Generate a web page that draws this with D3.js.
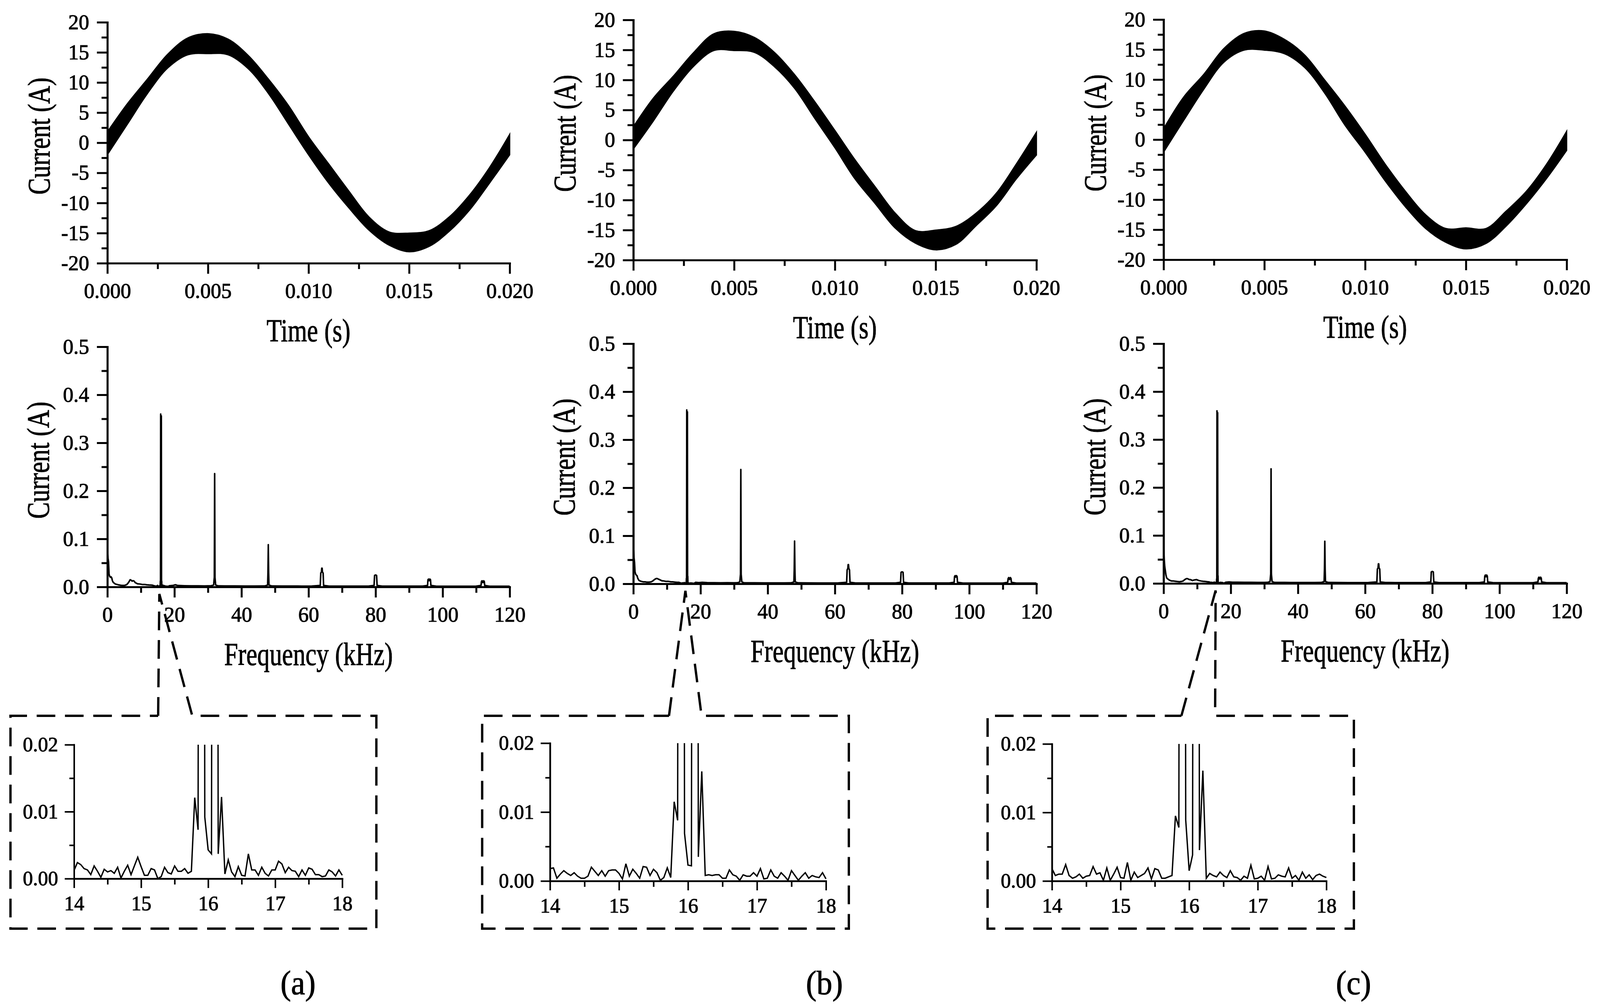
<!DOCTYPE html>
<html>
<head>
<meta charset="utf-8">
<script src="https://cdn.jsdelivr.net/npm/d3@7"></script>
<style>
  html, body { margin: 0; padding: 0; overflow: hidden; background: #fff; }
  svg { display: block; width: 100vw; height: 100vh; }
  text { font-family: "Liberation Serif", "Times New Roman", serif; fill: #000; stroke: #000; stroke-width: 1.2px; }
</style>
</head>
<body>
<div id="viz"></div>
<script>
// ---- time domain: upper / lower edge of the current band (A) ----
var timeGrid = [0, 0.001, 0.002, 0.003, 0.004, 0.005, 0.006, 0.007, 0.008, 0.009, 0.010,
                0.011, 0.012, 0.013, 0.014, 0.015, 0.016, 0.017, 0.018, 0.019, 0.020];

var waveUpperA = [1.8, 6.5, 10.6, 14.7, 17.4, 18.1, 17.2, 14.5, 10.6, 6.2, 1.0, -3.5, -8.0, -12.3, -14.8, -15.0, -14.6, -12.3, -8.7, -4.1, 1.4];
var waveLowerA = [-2.0, 3.1, 8.2, 12.4, 14.6, 14.8, 14.6, 12.3, 8.2, 3.1, -2.0, -6.7, -10.8, -14.5, -17.0, -18.1, -17.2, -14.7, -11.2, -6.7, -2.0];
var waveUpperB = [2.2, 7.0, 10.7, 14.6, 17.7, 18.1, 17.1, 14.6, 10.9, 6.4, 1.6, -3.3, -7.8, -12.2, -15.1, -15.0, -14.4, -12.2, -8.9, -4.0, 1.3];
var waveLowerB = [-1.5, 3.2, 8.2, 12.3, 14.9, 14.9, 14.6, 12.2, 8.6, 3.6, -1.3, -6.5, -10.6, -14.7, -17.2, -18.3, -17.4, -14.3, -11.0, -6.5, -2.5];
var waveUpperC = [1.8, 7.1, 10.9, 15.2, 17.7, 18.1, 16.7, 14.1, 9.9, 5.6, 0.9, -4.1, -8.6, -12.5, -14.8, -14.7, -14.8, -11.9, -8.6, -4.1, 1.4];
var waveLowerC = [-2.1, 3.2, 8.4, 12.9, 14.9, 14.9, 14.3, 12.0, 7.7, 2.4, -2.1, -6.9, -11.2, -14.8, -17.1, -18.2, -17.3, -14.4, -10.7, -6.5, -1.8];

// ---- spectrum, low band 0..14 kHz (A) ----
var lowFreq = [0.1, 0.2, 0.35, 0.5, 0.7, 0.9, 1.1, 1.3, 1.5, 1.7, 2.0, 2.4, 3.0, 3.5, 4.0, 4.7, 5.3,
               5.8, 6.3, 6.8, 7.1, 7.4, 7.7, 8.0, 8.3, 8.6, 9.0, 9.8, 10.5, 11.2, 11.7, 12.4, 13.0, 13.6];
var lowA = [0.075, 0.06, 0.052, 0.027, 0.022, 0.020, 0.021, 0.019, 0.013, 0.010, 0.008, 0.006, 0.005, 0.004, 0.0035, 0.003, 0.0035,
            0.005, 0.009, 0.015, 0.014, 0.012, 0.013, 0.012, 0.009, 0.008, 0.0065, 0.006, 0.005, 0.005, 0.0045, 0.004, 0.0038, 0.0035];
var lowB = [0.07, 0.055, 0.045, 0.025, 0.020, 0.018, 0.017, 0.012, 0.009, 0.007, 0.006, 0.005, 0.004, 0.004, 0.0035, 0.0035, 0.004,
            0.006, 0.009, 0.011, 0.011, 0.010, 0.009, 0.008, 0.007, 0.006, 0.006, 0.005, 0.005, 0.004, 0.004, 0.0035, 0.003, 0.003];
var lowC = [0.07, 0.05, 0.035, 0.028, 0.018, 0.012, 0.010, 0.009, 0.008, 0.007, 0.006, 0.005, 0.005, 0.0045, 0.004, 0.0035, 0.004,
            0.005, 0.008, 0.010, 0.010, 0.009, 0.008, 0.008, 0.007, 0.006, 0.007, 0.008, 0.006, 0.005, 0.0045, 0.004, 0.0035, 0.003];

// ---- spectrum 14..18 kHz, 50 Hz bins (mA) - shown in the insets ----
var insetFreq = [14.00, 14.05, 14.10, 14.15, 14.20, 14.25, 14.30, 14.35, 14.40, 14.45,
                 14.50, 14.55, 14.60, 14.65, 14.70, 14.75, 14.80, 14.85, 14.90, 14.95,
                 15.00, 15.05, 15.10, 15.15, 15.20, 15.25, 15.30, 15.35, 15.40, 15.45,
                 15.50, 15.55, 15.60, 15.65, 15.70, 15.75, 15.80, 15.85, 15.90, 15.95,
                 16.00, 16.05, 16.10, 16.15, 16.20, 16.25, 16.30, 16.35, 16.40, 16.45,
                 16.50, 16.55, 16.60, 16.65, 16.70, 16.75, 16.80, 16.85, 16.90, 16.95,
                 17.00, 17.05, 17.10, 17.15, 17.20, 17.25, 17.30, 17.35, 17.40, 17.45,
                 17.50, 17.55, 17.60, 17.65, 17.70, 17.75, 17.80, 17.85, 17.90, 17.95, 18.00];
var insetA = [1.2, 2.4, 2.1, 1.5, 1.3, 0.6, 1.9, 1.1, 0.2, 1.4,
              1.0, 1.2, 0.8, 1.7, 0.1, 1.1, 2.0, 0.6, 1.9, 3.2,
              1.8, 0.5, 0.5, 1.5, 1.3, 0.0, 0.3, 1.7, 0.9, 0.7,
              1.9, 1.1, 1.1, 1.5, 0.8, 1.1, 12.1, 7.3, 360, 9.2,
              4.3, 3.7, 356, 3.7, 12.2, 0.7, 2.8, 1.0, 0.3, 1.8,
              0.5, 0.4, 3.7, 1.3, 1.3, 0.5, 1.7, 0.8, 0.4, 1.3,
              1.3, 2.6, 2.2, 0.9, 1.7, 1.2, 1.1, 0.3, 1.3, 0.5,
              1.6, 1.4, 0.6, 0.6, 0.3, 0.4, 1.3, 1.0, 0.4, 1.3, 0.5];
var insetB = [1.8, 1.9, 0.4, 1.0, 1.5, 1.1, 0.8, 1.2, 0.7, 0.4,
              0.4, 0.7, 2.0, 1.4, 0.8, 1.5, 0.7, 1.5, 1.6, 1.6,
              1.1, 0.3, 2.5, 0.7, 1.7, 1.1, 0.4, 2.1, 2.0, 0.8,
              1.7, 1.2, 0.1, 0.5, 1.9, 0.5, 11.5, 8.8, 362, 6.9,
              2.3, 2.2, 358, 3.5, 15.9, 0.8, 0.9, 0.8, 0.9, 0.9,
              0.4, 0.4, 1.6, 0.9, 0.7, 0.1, 0.9, 0.7, 0.7, 1.2,
              0.7, 1.8, 0.3, 0.4, 1.6, 0.7, 0.4, 1.2, 0.7, 0.1,
              1.5, 0.8, 0.1, 0.7, 1.2, 0.4, 0.8, 0.6, 0.5, 1.2, 0.3];
var insetC = [1.8, 0.8, 1.0, 1.0, 2.4, 0.8, 0.4, 0.6, 1.0, 0.4,
              0.7, 0.8, 2.1, 1.0, 1.2, 0.1, 1.9, 0.1, 1.0, 2.0,
              0.5, 0.4, 2.7, 0.1, 1.3, 0.5, 0.8, 1.1, 1.9, 0.3,
              1.8, 1.6, 0.4, 0.4, 0.6, 0.8, 9.5, 7.8, 360, 8.9,
              1.5, 3.8, 356, 4.5, 16.1, 0.4, 1.1, 0.8, 0.6, 1.3,
              0.8, 0.5, 1.5, 0.6, 0.5, 0.1, 0.7, 0.4, 2.3, 0.3,
              0.4, 0.7, 0.1, 2.1, 0.3, 0.4, 0.9, 0.7, 0.6, 1.9,
              0.4, 0.8, 0.1, 1.3, 0.4, 0.9, 0.2, 0.8, 1.0, 0.7, 0.5];

// ---- spectrum, high band 18..120 kHz [kHz, A] ----
var highA = [[18.5,0.0025],[19.5,0.003],[20.3,0.0045],[21,0.003],[23,0.0025],[25,0.0022],[27,0.0022],[29,0.002],[31,0.0025],
  [31.7,0.004],[31.8,0.012],[31.9,0.02],[32.0,0.236],[32.1,0.02],[32.2,0.012],[32.3,0.004],
  [33,0.0022],[35,0.002],[38,0.002],[41,0.0018],[44,0.0018],[47,0.002],
  [47.8,0.004],[47.9,0.03],[48.0,0.088],[48.1,0.03],[48.2,0.004],
  [49,0.002],[52,0.0018],[55,0.0018],[58,0.0017],[61,0.0018],
  [63.5,0.003],[63.65,0.029],[63.85,0.031],[63.95,0.039],[64.05,0.039],[64.15,0.031],[64.35,0.029],[64.5,0.003],
  [66,0.0018],[69,0.0017],[72,0.0017],[75,0.0017],[78,0.0018],
  [79.55,0.003],[79.7,0.024],[80.0,0.025],[80.3,0.024],[80.45,0.003],
  [82,0.0017],[85,0.0016],[88,0.0016],[91,0.0016],[94,0.0017],
  [95.5,0.003],[95.62,0.015],[95.8,0.0163],[96.0,0.013],[96.2,0.0163],[96.38,0.015],[96.5,0.003],
  [98,0.0016],[101,0.0015],[104,0.0015],[107,0.0015],[110,0.0016],
  [111.45,0.003],[111.57,0.011],[111.75,0.0128],[112.0,0.009],[112.25,0.0128],[112.43,0.011],[112.55,0.003],
  [114,0.0015],[117,0.0015],[120,0.0015]];
var highB = [[18.5,0.003],[19.5,0.0025],[20.5,0.003],[22,0.0025],[24,0.0022],[26,0.002],[28,0.0022],[30,0.002],[31,0.0022],
  [31.7,0.004],[31.8,0.012],[31.9,0.02],[32.0,0.238],[32.1,0.02],[32.2,0.012],[32.3,0.004],
  [33,0.002],[36,0.002],[39,0.0018],[42,0.0018],[45,0.0018],[47,0.002],
  [47.8,0.004],[47.9,0.03],[48.0,0.089],[48.1,0.03],[48.2,0.004],
  [49,0.002],[52,0.0018],[55,0.0017],[58,0.0017],[61,0.0018],
  [63.5,0.003],[63.65,0.029],[63.85,0.032],[63.95,0.040],[64.05,0.040],[64.15,0.032],[64.35,0.029],[64.5,0.003],
  [66,0.0018],[69,0.0017],[72,0.0017],[75,0.0017],[78,0.0017],
  [79.55,0.003],[79.7,0.024],[80.0,0.025],[80.3,0.024],[80.45,0.003],
  [82,0.0017],[85,0.0016],[88,0.0016],[91,0.0016],[94,0.0016],
  [95.5,0.003],[95.62,0.015],[95.8,0.017],[96.0,0.014],[96.2,0.017],[96.38,0.015],[96.5,0.003],
  [98,0.0016],[101,0.0015],[104,0.0015],[107,0.0015],[110,0.0015],
  [111.45,0.003],[111.57,0.011],[111.75,0.013],[112.0,0.009],[112.25,0.013],[112.43,0.011],[112.55,0.003],
  [114,0.0015],[117,0.0015],[120,0.0015]];
var highC = [[18.5,0.0025],[19.5,0.003],[20.5,0.0025],[22,0.0025],[24,0.0022],[26,0.0022],[28,0.002],[30,0.002],[31,0.0022],
  [31.7,0.004],[31.8,0.012],[31.9,0.02],[32.0,0.239],[32.1,0.02],[32.2,0.012],[32.3,0.004],
  [33,0.002],[36,0.002],[39,0.0018],[42,0.0018],[45,0.0018],[47,0.002],
  [47.8,0.004],[47.9,0.03],[48.0,0.088],[48.1,0.03],[48.2,0.004],
  [49,0.002],[52,0.0018],[55,0.0017],[58,0.0017],[61,0.0018],
  [63.5,0.003],[63.65,0.030],[63.85,0.032],[63.95,0.041],[64.05,0.041],[64.15,0.032],[64.35,0.030],[64.5,0.003],
  [66,0.0018],[69,0.0017],[72,0.0017],[75,0.0017],[78,0.0017],
  [79.55,0.003],[79.7,0.024],[80.0,0.025],[80.3,0.024],[80.45,0.003],
  [82,0.0017],[85,0.0016],[88,0.0016],[91,0.0016],[94,0.0016],
  [95.5,0.003],[95.62,0.015],[95.8,0.0175],[96.0,0.014],[96.2,0.0175],[96.38,0.015],[96.5,0.003],
  [98,0.0016],[101,0.0015],[104,0.0015],[107,0.0015],[110,0.0015],
  [111.45,0.003],[111.57,0.011],[111.75,0.013],[112.0,0.009],[112.25,0.013],[112.43,0.011],[112.55,0.003],
  [114,0.0015],[117,0.0015],[120,0.0015]];

// ---- ticks ----
var timeTicks = [0, 0.005, 0.010, 0.015, 0.020];
var timeMinor = [0.0025, 0.0075, 0.0125, 0.0175];
var currTicks = [-20, -15, -10, -5, 0, 5, 10, 15, 20];
var currMinor = [-17.5, -12.5, -7.5, -2.5, 2.5, 7.5, 12.5, 17.5];
var freqTicks = [0, 20, 40, 60, 80, 100, 120];
var freqMinor = [10, 30, 50, 70, 90, 110];
var ampTicks = [0, 0.1, 0.2, 0.3, 0.4, 0.5];
var ampMinor = [0.05, 0.15, 0.25, 0.35, 0.45];
var zoomTicks = [14, 15, 16, 17, 18];
var zoomMinor = [14.5, 15.5, 16.5, 17.5];
var zoomAmpTicks = [0, 0.01, 0.02];
var zoomAmpMinor = [0.005, 0.015];

var width = 4128, height = 2571;

// panel placement (pixels)
var panels = [
  { label: "(a)", up: waveUpperA, lo: waveLowerA, low: lowA, ins: insetA, high: highA,
    tx: [277, 1315], ty: [57, 674], my: [888, 1503], ix: [191, 883], iy: [1907, 2250],
    box: [27, 971, 1833, 2378], gap: [408, 496], lx: 769 },
  { label: "(b)", up: waveUpperB, lo: waveLowerB, low: lowB, ins: insetB, high: highB,
    tx: [1634, 2674], ty: [51, 666], my: [880, 1495], ix: [1419, 2131], iy: [1903, 2256],
    box: [1244, 2190, 1833, 2378], gap: [1726, 1810], lx: 2127 },
  { label: "(c)", up: waveUpperC, lo: waveLowerC, low: lowC, ins: insetC, high: highC,
    tx: [3002, 4042], ty: [50, 665], my: [880, 1494], ix: [2714, 3422], iy: [1905, 2256],
    box: [2548, 3493, 1833, 2378], gap: [3048, 3135], lx: 3492 }
];

// viewBox keeps the whole figure inside whatever viewport the browser reports
var svg = d3.select("#viz").append("svg")
    .attr("viewBox", "0 0 " + width + " " + height)
    .attr("preserveAspectRatio", "none")
    .style("background", "#fff");

var serif = "Liberation Serif, Times New Roman, serif";

// draws minor + major ticks for one axis
function drawAxis(g, axisFn, scale, major, minor, fmt, big, small, pad, fs, sw) {
    g.append("g").call(axisFn(scale).tickValues(minor).tickSize(small).tickSizeOuter(0).tickFormat(""));
    g.append("g").call(axisFn(scale).tickValues(major).tickSize(big).tickSizeOuter(0)
        .tickPadding(pad).tickFormat(fmt));
    g.attr("font-family", serif).attr("font-size", fs);
    g.selectAll("path.domain").attr("stroke", "#000").attr("stroke-width", sw).attr("stroke-linecap", "square");
    g.selectAll(".tick line").attr("stroke", "#000").attr("stroke-width", sw);
    g.selectAll(".tick text").style("font-size", fs + "px").attr("fill", "#000");
}

function title(x, y, txt, rotate) {
    svg.append("text")
        .attr("transform", "translate(" + x + "," + y + ")" + (rotate ? " rotate(-90)" : "") + " scale(0.78,1)")
        .attr("text-anchor", "middle")
        .attr("dy", rotate ? "0.35em" : 0)
        .style("font-size", "82px")
        .text(txt);
}

panels.forEach(function(p, k) {

    // ---------- time domain ----------
    var x = d3.scaleLinear().domain([0, 0.02]).range(p.tx);
    var y = d3.scaleLinear().domain([-20, 20]).range([p.ty[1], p.ty[0]]);
    var band = timeGrid.map(function(t, i) { return { t: t, hi: p.up[i], lo: p.lo[i] }; });

    svg.append("path")
        .datum(band)
        .attr("fill", "#000")
        .attr("stroke", "#000")
        .attr("stroke-width", 3)
        .attr("d", d3.area()
            .x(function(d) { return x(d.t); })
            .y0(function(d) { return y(d.lo); })
            .y1(function(d) { return y(d.hi); })
            .curve(d3.curveCatmullRom));

    drawAxis(svg.append("g").attr("transform", "translate(0," + p.ty[1] + ")"),
        d3.axisBottom, x, timeTicks, timeMinor, d3.format(".3f"), 27, 15, 24, 54, 5);
    drawAxis(svg.append("g").attr("transform", "translate(" + p.tx[0] + ",0)"),
        d3.axisLeft, y, currTicks, currMinor, function(d) { return String(d); }, 27, 15, 20, 54, 5);

    title((p.tx[0] + p.tx[1]) / 2, p.ty[1] + 200, "Time (s)", false);
    title(p.tx[0] - 178, (p.ty[0] + p.ty[1]) / 2 - 17, "Current (A)", true);

    // ---------- spectrum ----------
    var fx = d3.scaleLinear().domain([0, 120]).range(p.tx);
    var fy = d3.scaleLinear().domain([0, 0.5]).range([p.my[1], p.my[0]]);
    var spec = lowFreq.map(function(f, i) { return [f, p.low[i]]; })
        .concat(insetFreq.map(function(f, i) { return [f, p.ins[i] / 1000]; }))
        .concat(p.high);

    svg.append("clipPath").attr("id", "clipMid" + k)
        .append("rect")
        .attr("x", p.tx[0]).attr("y", p.my[0])
        .attr("width", p.tx[1] - p.tx[0] + 4).attr("height", p.my[1] - p.my[0] + 6);

    svg.append("path")
        .datum(spec)
        .attr("clip-path", "url(#clipMid" + k + ")")
        .attr("fill", "none")
        .attr("stroke", "#000")
        .attr("stroke-width", 4)
        .attr("stroke-linejoin", "round")
        .attr("d", d3.line()
            .x(function(d) { return fx(d[0]); })
            .y(function(d) { return fy(d[1]); }));

    drawAxis(svg.append("g").attr("transform", "translate(0," + p.my[1] + ")"),
        d3.axisBottom, fx, freqTicks, freqMinor, d3.format("d"), 27, 15, 24, 54, 5);
    drawAxis(svg.append("g").attr("transform", "translate(" + p.tx[0] + ",0)"),
        d3.axisLeft, fy, ampTicks, ampMinor, d3.format(".1f"), 27, 15, 20, 54, 5);

    title((p.tx[0] + p.tx[1]) / 2, p.my[1] + 200, "Frequency (kHz)", false);
    title(p.tx[0] - 180, (p.my[0] + p.my[1]) / 2 - 17, "Current (A)", true);

    // ---------- zoom box + connector ----------
    var apexX = fx(15.5), apexY = p.my[1] + 18;
    var b = p.box;
    var boxPath = d3.path();
    boxPath.moveTo(p.gap[0], b[2]);
    boxPath.lineTo(apexX, apexY);
    boxPath.lineTo(p.gap[1], b[2]);
    boxPath.lineTo(b[1], b[2]);
    boxPath.lineTo(b[1], b[3]);
    boxPath.lineTo(b[0], b[3]);
    boxPath.lineTo(b[0], b[2]);
    boxPath.lineTo(p.gap[0], b[2]);

    svg.append("path")
        .attr("d", boxPath.toString())
        .attr("fill", "none")
        .attr("stroke", "#000")
        .attr("stroke-width", 6)
        .attr("stroke-dasharray", "48,25");

    // ---------- inset ----------
    var zx = d3.scaleLinear().domain([14, 18]).range(p.ix);
    var zy = d3.scaleLinear().domain([0, 0.02]).range([p.iy[1], p.iy[0]]);
    var zoomData = insetFreq.map(function(f, i) { return [f, p.ins[i] / 1000]; });

    svg.append("clipPath").attr("id", "clipIns" + k)
        .append("rect")
        .attr("x", p.ix[0]).attr("y", p.iy[0])
        .attr("width", p.ix[1] - p.ix[0] + 3).attr("height", p.iy[1] - p.iy[0] + 4);

    svg.append("path")
        .datum(zoomData)
        .attr("clip-path", "url(#clipIns" + k + ")")
        .attr("fill", "none")
        .attr("stroke", "#000")
        .attr("stroke-width", 3.5)
        .attr("d", d3.line()
            .x(function(d) { return zx(d[0]); })
            .y(function(d) { return zy(d[1]); }));

    drawAxis(svg.append("g").attr("transform", "translate(0," + p.iy[1] + ")"),
        d3.axisBottom, zx, zoomTicks, zoomMinor, d3.format("d"), 24, 15, 20, 52, 4);
    drawAxis(svg.append("g").attr("transform", "translate(" + p.ix[0] + ",0)"),
        d3.axisLeft, zy, zoomAmpTicks, zoomAmpMinor, d3.format(".2f"), 24, 12, 17, 52, 4);

    // panel letter
    svg.append("text")
        .attr("transform", "translate(" + p.lx + ",2546) scale(0.95,1)")
        .attr("text-anchor", "middle")
        .style("font-size", "86px")
        .text(p.label);
});
</script>
</body>
</html>
